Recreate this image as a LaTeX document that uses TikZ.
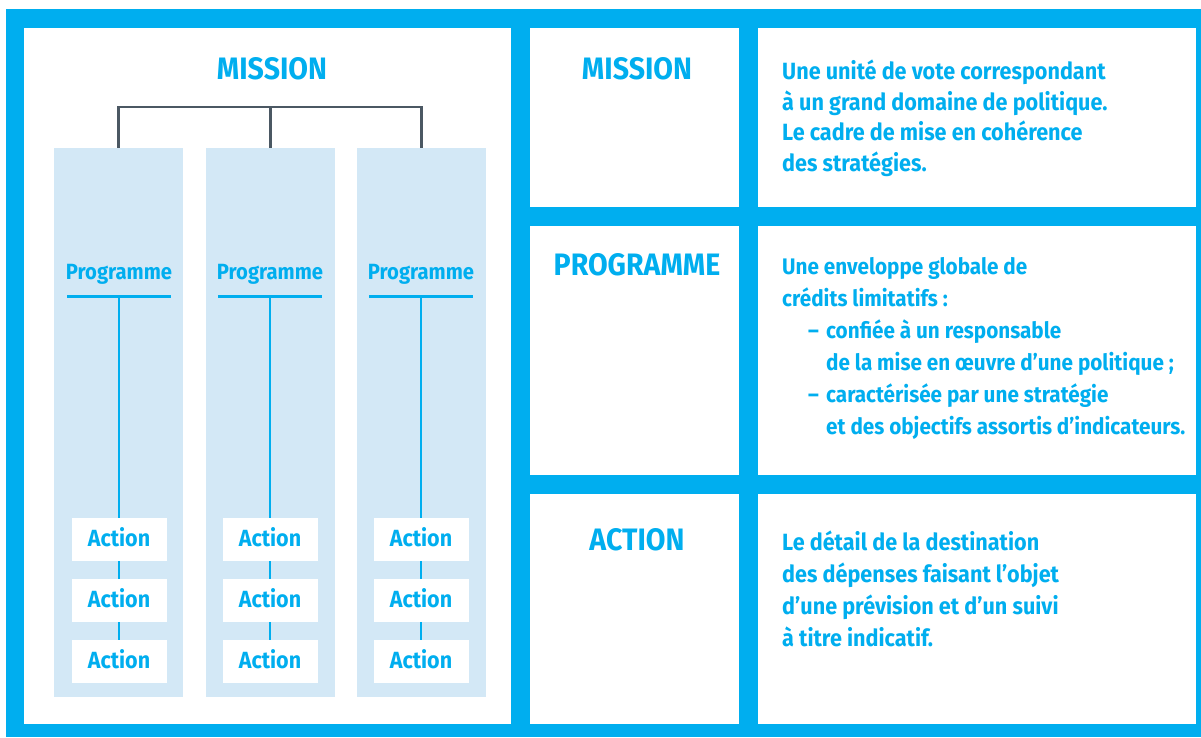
\documentclass[tikz,border=0pt]{standalone}
\usepackage{fontspec}
\setmainfont{Fira Sans}[FakeStretch=0.92]
\definecolor{lolfblue}{HTML}{00AEEF}
\definecolor{colfill}{HTML}{D3E8F6}
\definecolor{treegray}{HTML}{4B5863}
\begin{document}
\begin{tikzpicture}[x=1pt,y=-1pt,
  panel/.style={fill=white},
  title/.style={text=lolfblue, font=\fontsize{31}{34}\selectfont\bfseries, inner sep=0pt},
  body/.style={text=lolfblue, font=\fontsize{23.5}{31.5}\selectfont\bfseries, align=left, anchor=north west, inner sep=0pt},
  prog/.style={text=lolfblue, font=\fontsize{22}{26}\selectfont\bfseries, inner sep=0pt},
  actbox/.style={fill=white, minimum width=95pt, minimum height=43pt, inner sep=0pt, text depth=5pt, text=lolfblue, font=\fontsize{23.4}{26}\selectfont\bfseries},
  colbox/.style={fill=colfill, minimum width=129pt, minimum height=549pt, inner sep=0pt},
  tree/.style={draw=treegray, line width=2.5pt},
  link/.style={draw=lolfblue, line width=2.5pt},
  uline/.style={draw=lolfblue, line width=3pt}]
\useasboundingbox (0,0) rectangle (1201,737);
% background frame
\fill[lolfblue] (6,9) rectangle (1201,737);
% panels
\fill[panel] (24,28) rectangle (511,724);
\fill[panel] (530,28) rectangle (739,207);
\fill[panel] (530,226) rectangle (739,475);
\fill[panel] (530,494) rectangle (739,724);
\fill[panel] (758,28) rectangle (1196,207);
\fill[panel] (758,226) rectangle (1196,475);
\fill[panel] (758,494) rectangle (1196,724);

% left tree
\node[title] (mtitle) at (272,68.5) {MISSION};
\node[colbox] (col1) at (118.5,422.5) {};
\node[colbox] (col2) at (270.5,422.5) {};
\node[colbox] (col3) at (421.5,422.5) {};
\coordinate (bar) at (270.5,107);
\draw[tree] (col1.north) |- (bar) -| (col3.north);
\draw[tree] (col2.north) -- (bar);

\foreach \i/\x in {1/119,2/270,3/421}{
  \node[prog] (p\i) at (\x,274) {Programme};
  \coordinate (ul\i) at (\x-52,296);
  \coordinate (ur\i) at (\x+52,296);
  \coordinate (uc\i) at (\x,296);
  \draw[uline] (ul\i) -- (ur\i);
  \node[actbox] (a\i1) at (\x,539.5) {Action};
  \node[actbox] (a\i2) at (\x,600.5) {Action};
  \node[actbox] (a\i3) at (\x,661.5) {Action};
  \draw[link] (uc\i) -- (a\i1.north);
  \draw[link] (a\i1.south) -- (a\i2.north);
  \draw[link] (a\i2.south) -- (a\i3.north);
}

% right side titles
\node[title] (tm) at (637,68.5) {MISSION};
\node[title] (tp) at (637,264.5) {PROGRAMME};
\node[title] (ta) at (637,539.5) {ACTION};

% right side texts
\node[body, font=\fontsize{23.5}{30.8}\selectfont\bfseries] (dm) at (782,59.5) {Une unité de vote correspondant\\
à un grand domaine de politique.\\
Le cadre de mise en cohérence\\
des stratégies.};
\node[body, font=\fontsize{22.5}{32}\selectfont\bfseries] (dp) at (782,257) {Une enveloppe globale de\\
crédits limitatifs :\\
\hspace*{26pt}\makebox[18pt][l]{–}confiée à un responsable\\
\hspace*{44pt}de la mise en œuvre d’une politique ;\\
\hspace*{26pt}\makebox[18pt][l]{–}caractérisée par une stratégie\\
\hspace*{44pt}et des objectifs assortis d’indicateurs.};
\node[body, font=\fontsize{23.5}{32}\selectfont\bfseries] (da) at (782,530.5) {Le détail de la destination\\
des dépenses faisant l’objet\\
d’une prévision et d’un suivi\\
à titre indicatif.};
\end{tikzpicture}
\end{document}
